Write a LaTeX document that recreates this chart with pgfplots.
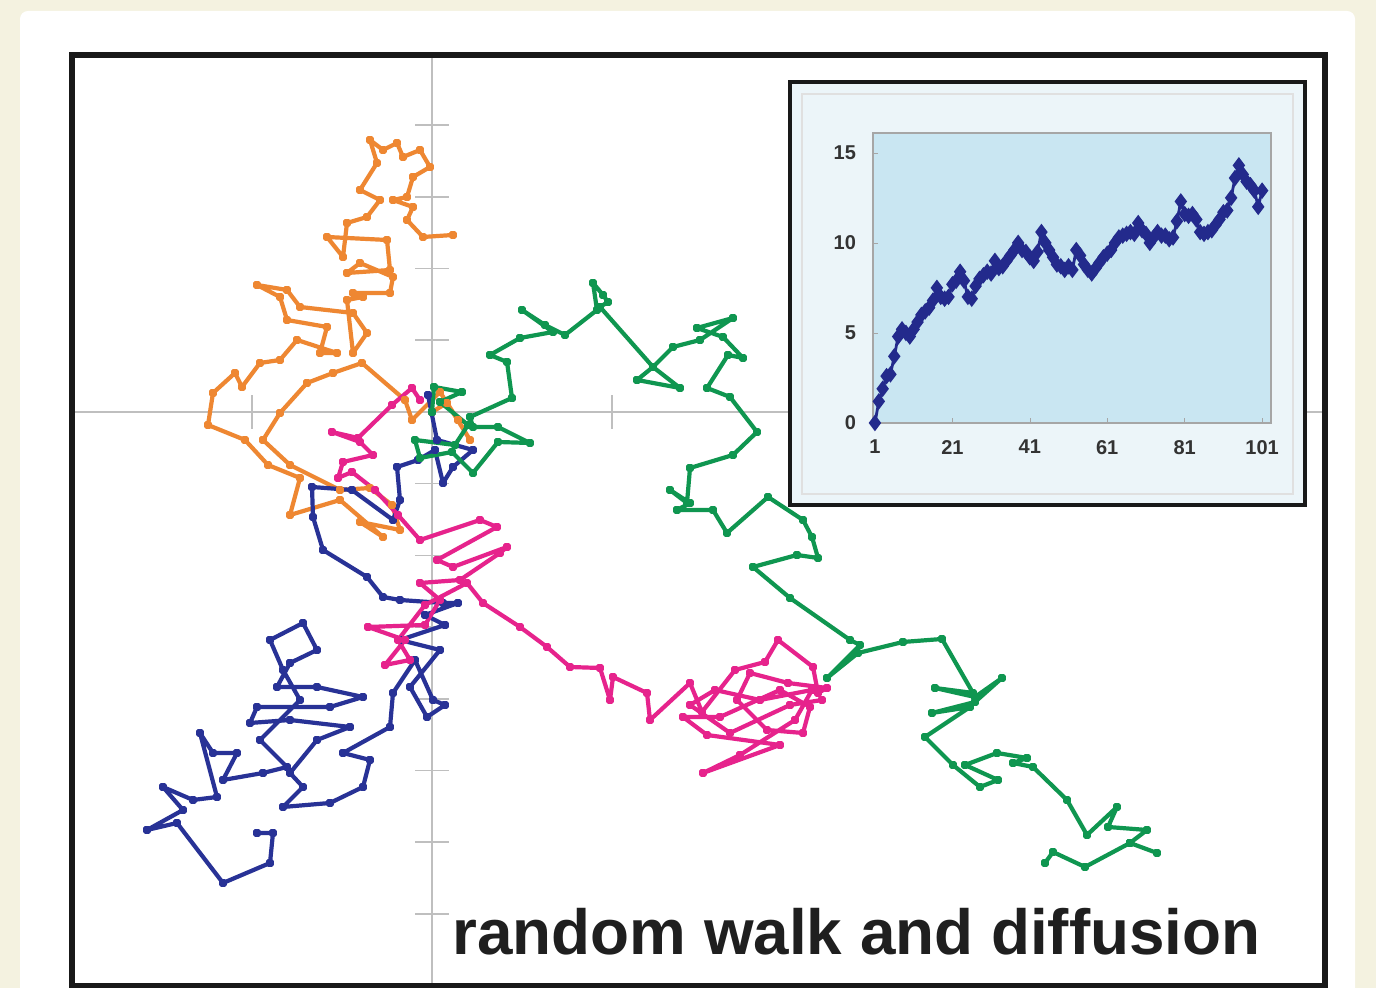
\documentclass[border=0pt]{standalone}
\usepackage{pgfplots}
\pgfplotsset{compat=1.18}
\usepackage{pgfplotstable}
\usepackage{fontspec}
\setmainfont{Liberation Sans}
\definecolor{cream}{RGB}{244,242,224}
\definecolor{worange}{RGB}{238,135,50}
\definecolor{wpink}{RGB}{230,35,140}
\definecolor{wblue}{RGB}{40,50,150}
\definecolor{wgreen}{RGB}{15,150,80}
\definecolor{insetbg}{RGB}{236,245,249}
\definecolor{plotbg}{RGB}{201,230,242}
\definecolor{dotblue}{RGB}{35,42,140}

\pgfplotstableread{
x y
0 0
15 9
38 -28
26 -8
8 20
-20 -8
-27 12
-70 49
-99 39
-125 29
-152 -1
-169 -28
-142 -53
-92 -78
-62 -76
-40 -93
-32 -118
-72 -110
-49 -125
-92 -88
-142 -103
-132 -66
-164 -53
-187 -28
-224 -13
-219 19
-197 39
-190 25
-172 49
-152 52
-135 72
-95 59
-112 59
-105 85
-145 92
-152 115
-175 127
-145 122
-132 105
-79 99
-65 79
-79 59
-85 112
-69 115
-79 119
-42 119
-39 135
-72 149
-85 139
-42 142
-45 172
-105 175
-89 155
-85 189
-65 195
-52 212
-72 222
-55 249
-62 272
-49 262
-35 269
-29 255
-12 262
-2 245
-19 235
-25 215
-39 212
-19 205
-25 192
-9 175
21 177
}\orangewalk

\pgfplotstableread{
x y
0 0
-4 17
5 -28
41 -38
21 -55
11 -71
3 -38
-14 -48
-35 -55
-32 -88
-39 -108
-80 -78
-120 -75
-119 -105
-109 -138
-65 -165
-49 -185
-32 -188
11 -191
26 -191
-7 -203
13 -213
-32 -228
8 -238
-22 -275
-5 -305
13 -293
1 -288
-17 -248
-39 -281
-42 -315
-89 -341
-62 -348
-69 -375
-102 -391
-149 -395
-129 -375
-142 -361
-115 -328
-82 -315
-142 -308
-182 -311
-175 -295
-102 -295
-69 -285
-115 -275
-155 -275
-142 -251
-115 -238
-129 -211
-162 -228
-149 -258
-132 -288
-172 -328
-145 -355
-169 -361
-209 -368
-195 -341
-219 -341
-232 -321
-215 -385
-239 -388
-269 -375
-249 -398
-285 -418
-255 -411
-209 -471
-162 -451
-159 -421
-175 -421
}\bluewalk

\pgfplotstableread{
x y
-12 12
-20 24
-40 7
-74 -26
-100 -20
-72 -30
-59 -43
-89 -50
-94 -66
-80 -60
-57 -78
-34 -103
-12 -128
48 -108
65 -115
5 -148
21 -155
75 -135
68 -141
28 -168
-12 -171
8 -188
-7 -213
-64 -215
-27 -228
-47 -253
-22 -248
-34 -228
-7 -193
35 -171
51 -191
88 -215
115 -235
138 -255
168 -256
178 -288
181 -265
215 -281
218 -308
258 -271
270 -300
303 -258
333 -250
346 -228
381 -255
386 -281
395 -276
356 -271
318 -261
305 -288
335 -318
371 -321
378 -295
348 -278
288 -305
251 -305
275 -323
348 -333
271 -361
308 -343
363 -308
380 -278
328 -288
283 -278
258 -293
298 -321
358 -293
390 -288
}\pinkwalk

\pgfplotstableread{
x y
0 0
2 25
30 20
8 10
36 -13
23 -33
-17 -28
-12 -46
20 -40
41 -61
66 -30
98 -31
66 -15
41 -15
38 -5
80 14
75 50
58 57
88 74
121 80
90 102
113 87
133 77
165 102
161 129
171 117
176 110
168 105
221 45
248 24
205 32
221 45
241 65
268 72
301 94
265 84
291 75
311 54
296 57
275 24
298 15
325 -20
301 -43
258 -56
255 -91
238 -78
258 -91
245 -98
281 -98
295 -121
336 -85
371 -108
380 -125
386 -146
365 -143
321 -155
358 -186
418 -228
428 -233
395 -266
426 -241
471 -230
510 -227
541 -281
503 -276
543 -285
570 -266
543 -290
500 -301
538 -295
493 -325
521 -353
548 -375
566 -368
533 -353
565 -341
595 -346
581 -351
601 -355
635 -388
655 -423
685 -395
676 -415
715 -418
698 -431
725 -441
698 -431
653 -455
621 -440
613 -451
}\greenwalk

\pgfplotstableread{
n d
1 0
2 1.2
3 1.9
4 2.6
5 2.7
6 3.7
7 4.8
8 5.2
9 5.0
10 4.8
11 5.2
12 5.6
13 6.0
14 6.2
15 6.4
16 6.8
17 7.5
18 7.0
19 6.9
20 7.0
21 7.7
22 7.9
23 8.4
24 7.9
25 7.0
26 6.9
27 7.6
28 8.0
29 8.2
30 8.4
31 8.3
32 9.0
33 8.6
34 8.7
35 9.0
36 9.3
37 9.6
38 10.0
39 9.6
40 9.5
41 9.2
42 9.0
43 9.5
44 10.6
45 10.0
46 9.6
47 9.2
48 8.8
49 8.7
50 8.5
51 8.7
52 8.5
53 9.6
54 9.3
55 8.8
56 8.5
57 8.3
58 8.6
59 8.9
60 9.2
61 9.4
62 9.6
63 10.0
64 10.3
65 10.4
66 10.5
67 10.6
68 10.5
69 11.1
70 10.7
71 10.5
72 10.0
73 10.3
74 10.6
75 10.4
76 10.4
77 10.2
78 10.3
79 11.2
80 12.3
81 11.6
82 11.5
83 11.6
84 11.3
85 10.6
86 10.5
87 10.6
88 10.7
89 11.0
90 11.3
91 11.7
92 11.8
93 12.5
94 13.6
95 14.3
96 13.8
97 13.4
98 13.2
99 12.9
100 12.0
101 12.9
}\insetdata

\begin{document}
\begin{tikzpicture}
\useasboundingbox (0,0) rectangle (688pt,494pt);
\fill[cream] (0,0) rectangle (688pt,494pt);
\fill[white, rounded corners=4pt] (10pt,-6pt) rectangle (677.5pt,488.5pt);

\begin{axis}[
  at={(36pt,1pt)}, anchor=south west,
  width=626.5pt, height=465.5pt, scale only axis,
  xmin=-360, xmax=893, ymin=-574, ymax=357,
  axis lines=middle,
  axis line style={black!25, line width=0.8pt, -},
  xtick={-180,180},
  ytick={-501.9,-430.2,-358.5,-286.8,-215.1,-143.4,-71.7,71.7,143.4,215.1,286.8},
  xticklabels={}, yticklabels={},
  tick align=center,
  tick style={black!25, line width=0.8pt},
  major tick length=17pt,
  clip=true,
  line join=round,
]
\addplot[worange, line width=2.1pt, mark=square*, mark size=0.9pt] table {\orangewalk};
\addplot[wblue, line width=2.1pt, mark=square*, mark size=0.9pt] table {\bluewalk};
\addplot[wpink, line width=2.1pt, mark=square*, mark size=0.9pt] table {\pinkwalk};
\addplot[wgreen, line width=2.1pt, mark=square*, mark size=0.9pt] table {\greenwalk};
\end{axis}
\draw[black!90, line width=2.6pt] (36pt,1pt) rectangle (662.5pt,466.5pt);

\node[anchor=base west, inner sep=0, text=black!88,
      font=\bfseries\fontsize{31.9pt}{36pt}\selectfont] at (226pt,16.5pt) {random walk and diffusion};

\draw[black!90, line width=2.2pt, fill=insetbg] (395pt,241.5pt) rectangle (652.5pt,453pt);
\draw[black!12, line width=0.6pt] (401pt,247pt) rectangle (646.5pt,447pt);

\begin{axis}[
  at={(436.5pt,282.5pt)}, anchor=south west,
  width=199pt, height=145pt, scale only axis,
  xmin=0.5, xmax=103.3, ymin=0, ymax=16.1,
  axis background/.style={fill=plotbg},
  axis line style={black!35, line width=0.6pt},
  xtick={1,21,41,61,81,101}, ytick={0,5,10,15},
  tick align=inside, major tick length=2.5pt,
  tick style={black!35},
  xtick pos=bottom, ytick pos=left,
  ticklabel style={font=\bfseries\fontsize{10pt}{12pt}\selectfont, text=black!80},
  xticklabel style={yshift=-5pt},
  yticklabel style={xshift=-5pt},
  /pgf/number format/assume math mode=true,
  clip=false,
]
\addplot[dotblue, line width=1.4pt, mark=diamond*, mark size=3pt] table {\insetdata};
\end{axis}
\end{tikzpicture}
\end{document}
